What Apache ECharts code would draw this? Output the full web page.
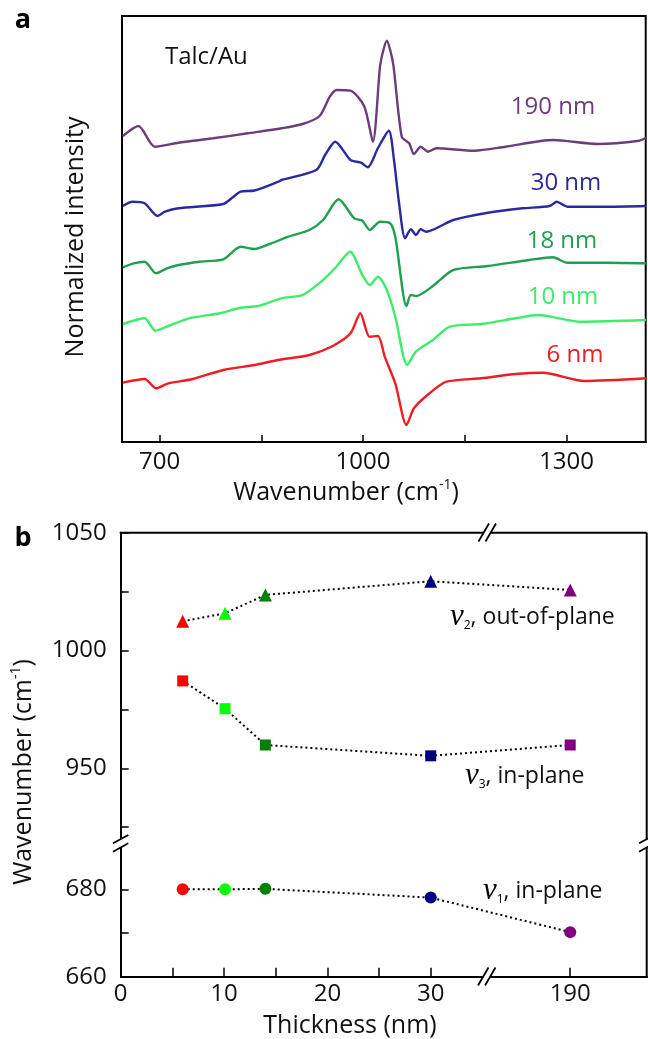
<!DOCTYPE html>
<html><head><meta charset="utf-8">
<script src="https://cdn.jsdelivr.net/npm/echarts@6/dist/echarts.min.js"></script>
<style>html,body{margin:0;padding:0;background:#fff}#c{width:648px;height:1039px}</style>
</head><body><div id="c"></div>
<script>
// ---------- Panel a: spectra (wavenumber, normalized intensity with offset) ----------
const specLabels = ['190 nm', '30 nm', '18 nm', '10 nm', '6 nm'];
const spec190 = [[646,306],[669,316],[693,295.3],[728,299.3],[779,303.7],[830,308.7],[880,313.7],[911,318],[936,326],[951,345.3],[961,352],[981.5,351.3],[1002,335.3],[1014.5,300.3],[1025,375.3],[1030,392],[1035,401.3],[1040,392],[1045,375.3],[1057,305.3],[1068,298.7],[1075,288],[1085,295.3],[1096,290.3],[1108,293.7],[1164,291.3],[1210,295.3],[1280,302],[1346,298],[1407,301.3],[1417,304.3]];
const spec30 = [[646,236],[660,240.3],[678,238.7],[697,226],[708,230.3],[728,233.7],[794,238],[809,245.3],[819.5,250.3],[840,251.5],[875,260.3],[880,262],[931,272],[944,287],[959,300.3],[981.5,282],[997,279.3],[1007,274.7],[1022,294],[1038,311.3],[1045.6,282],[1052.5,242],[1062,203.7],[1070.5,212.7],[1078,207],[1085,212.7],[1093,210.3],[1133,222],[1184,229.3],[1235,233.7],[1275,236],[1285.5,240.3],[1301,235.3],[1361,235.3],[1417,236]];
const spec18 = [[646,174.7],[662,178.7],[678,180.3],[695,168.7],[711,173.7],[728,177],[759,180.3],[794,182.7],[819.5,195.3],[840,193],[865,198.7],[890,205.3],[921,212],[941,222],[964,242.7],[987,223.7],[999,221.3],[1010,212],[1025,220.3],[1040,218.7],[1047.5,205.3],[1064,136],[1070.5,147],[1078,146],[1103,156],[1133,172],[1184,176],[1245,182],[1280,184.7],[1301,179.3],[1361,179.3],[1417,178.7]];
const spec10 = [[646,118],[678,123.7],[694,111.3],[713,116],[743.5,123.7],[789,128.7],[819.5,134.3],[845,136],[880,143.7],[911,147],[941,162],[959,174],[981,190.3],[999,167],[1010,157],[1022,165.3],[1035,152],[1047.5,125.3],[1065,77],[1078,90.3],[1103,102],[1128,115.3],[1174,118],[1225,123.7],[1257.5,127],[1321,120.3],[1417,122]];
const spec6 = [[646,59.3],[678,63],[695,53.7],[713,58.7],[749,63],[794,72],[840,77],[875,82],[921,87],[956,96.3],[981.5,108.7],[996,128.7],[1009.5,105.3],[1022,106],[1032,85.3],[1047.5,58.7],[1064,17],[1075,33.7],[1098,48.7],[1123,60.3],[1174,63.7],[1225,68],[1265,69.3],[1326,61],[1417,63.7]];
const specColors = ['#6a3d7c', '#2a2a9e', '#1fa050', '#3ded6a', '#ee1c24'];
const wnTicks = [700, 850, 1000, 1150, 1300];
const wnLabels = [700, 1000, 1300];

// ---------- Panel b: peak positions vs thickness ----------
const thickness = [6, 10.1, 14, 30, 190];
const nu2 = [1012.4, 1015.8, 1023.6, 1029.4, 1025.7];
const nu3 = [987.1, 975.3, 959.9, 955.3, 959.9];
const nu1 = [680.0, 680.0, 680.1, 678.1, 670.2];
const pointColors = ['#ff0000', '#00ff00', '#008000', '#000080', '#800080'];
const upperTicks = [925, 950, 975, 1000, 1025, 1050];
const upperLabels = [950, 1000, 1050];
const lowerTicks = [660, 670, 680];
const lowerLabels = [660, 680];
const thickTicks = [0, 5, 10, 15, 20, 25, 30, 190];
const thickLabels = [0, 10, 20, 30, 190];

const FONT = '"Open Sans", "Noto Sans", sans-serif';
const TXT = '#111';
const chart = echarts.init(document.getElementById('c'), null, {renderer: 'canvas'});

const spectra = [spec190, spec30, spec18, spec10, spec6];
const specSeries = spectra.map((d, i) => ({
  type: 'line', name: specLabels[i], xAxisIndex: 0, yAxisIndex: 0,
  data: d, showSymbol: false, smooth: 0.25,
  lineStyle: {color: specColors[i], width: 2.4}, z: 3
}));

function pts(vals) {
  return thickness.map((t, i) => ({value: [t, vals[i]], itemStyle: {color: pointColors[i]}}));
}
const dotted = {color: '#000', width: 2, type: [2, 3]};
const thickAxisBase = {
  type: 'value', min: 0, max: 197.4,
  breaks: [{start: 35.5, end: 182, gap: 0}],
  breakArea: {show: false},
  splitLine: {show: false}
};
const plain = v => String(v);
const lbl = {fontFamily: FONT, fontSize: 24, color: TXT, formatter: plain};

const labelPos = [[553, 107], [566, 183], [562, 241], [563, 297], [575, 355]];

function line(x1, y1, x2, y2, w) {
  return {type: 'line', shape: {x1, y1, x2, y2}, style: {stroke: '#000', lineWidth: w || 2}, z: 50};
}
function rect(x, y, w, h) {
  return {type: 'rect', shape: {x, y, width: w, height: h}, style: {fill: '#fff'}, z: 60};
}
function slash(x1, y1, x2, y2) {
  return {type: 'line', shape: {x1, y1, x2, y2}, style: {stroke: '#000', lineWidth: 1.8}, z: 70};
}
function nuText(x, y, sub, rest) {
  return {type: 'text', x, y, style: {text: '{nu|ν}{sub|' + sub + '}{t|, ' + rest + '}', align: 'left', verticalAlign: 'middle', lineHeight: 30,
    rich: {nu: {fontFamily: '"Liberation Serif", serif', fontStyle: 'italic', fontSize: 31, fill: '#000', lineHeight: 30, verticalAlign: 'middle'},
           sub: {fontFamily: FONT, fontSize: 12, fill: '#000', lineHeight: 14, verticalAlign: 'bottom'},
           t: {fontFamily: FONT, fontSize: 23, fill: TXT, lineHeight: 30, verticalAlign: 'middle'}}}};
}
const supRich = {sup: {fontSize: 14, fontFamily: FONT, fill: TXT, verticalAlign: 'top', lineHeight: 14}};

const graphics = [
  {type: 'text', x: 23, y: 20, style: {text: 'a', font: 'bold 27px "Open Sans", sans-serif', fill: '#000', align: 'center', verticalAlign: 'middle'}},
  {type: 'text', x: 23, y: 538, style: {text: 'b', font: 'bold 27px "Open Sans", sans-serif', fill: '#000', align: 'center', verticalAlign: 'middle'}},
  {type: 'text', x: 165, y: 57, style: {text: 'Talc/Au', font: '24px ' + FONT, fill: TXT, align: 'left', verticalAlign: 'middle'}},
  {type: 'text', x: 76, y: 237, rotation: Math.PI / 2, style: {text: 'Normalized intensity', font: '25px ' + FONT, fill: TXT, align: 'center', verticalAlign: 'middle'}},
  {type: 'text', x: 346, y: 493, style: {text: 'Wavenumber (cm{sup|-1})', font: '25px ' + FONT, fill: TXT, align: 'center', verticalAlign: 'middle', lineHeight: 30, rich: supRich}},
  {type: 'text', x: 24, y: 772, rotation: Math.PI / 2, style: {text: 'Wavenumber (cm{sup|-1})', font: '25px ' + FONT, fill: TXT, align: 'center', verticalAlign: 'middle', lineHeight: 30, rich: supRich}},
  {type: 'text', x: 350, y: 1026, style: {text: 'Thickness (nm)', font: '25px ' + FONT, fill: TXT, align: 'center', verticalAlign: 'middle'}},
  nuText(450, 617, '2', 'out-of-plane'),
  nuText(465, 776, '3', 'in-plane'),
  nuText(483, 891, '1', 'in-plane'),
  // panel b frame (top and right borders)
  line(119.7, 532.7, 646.7, 532.7),
  line(646.7, 532.7, 646.7, 977.7),
  // break gaps and marks: top, bottom (x break), left, right (y break)
  rect(483.6, 529.5, 7, 6.5),
  slash(478.5, 541.5, 489, 523.5), slash(485.5, 541.5, 496, 523.5),
  rect(483.4, 973.5, 6.6, 6.5),
  slash(478, 985.5, 488.5, 967.5), slash(485, 985.5, 495.5, 967.5),
  rect(117, 839.3, 7.5, 8),
  slash(113, 843.3, 128.3, 835), slash(113, 851.7, 128.3, 843.3),
  rect(643, 839.3, 7.5, 8),
  slash(639, 843.3, 654.3, 835), slash(639, 851.7, 654.3, 843.3)
];
specLabels.forEach((t, i) => {
  graphics.push({type: 'text', x: labelPos[i][0], y: labelPos[i][1], style: {text: t, font: '24px ' + FONT, fill: specColors[i], align: 'center', verticalAlign: 'middle'}});
});

chart.setOption({
  animation: false,
  backgroundColor: '#fff',
  grid: [
    {left: 122, top: 16, width: 523.7, height: 426, show: true, borderColor: '#000', borderWidth: 2, backgroundColor: 'transparent'},
    {left: 120.7, top: 532.7, width: 526, height: 306.3},
    {left: 120.7, top: 845.6, width: 526, height: 131.1}
  ],
  xAxis: [
    {type: 'value', gridIndex: 0, min: 644.7, max: 1416.6,
     axisLine: {show: true, lineStyle: {color: '#000', width: 2}},
     axisTick: {show: true, inside: true, length: 7, customValues: wnTicks, lineStyle: {color: '#000', width: 1.5}},
     axisLabel: Object.assign({customValues: wnLabels, margin: 8}, lbl),
     splitLine: {show: false}},
    Object.assign({gridIndex: 1, show: false}, thickAxisBase),
    Object.assign({gridIndex: 2,
     axisLine: {show: true, onZero: false, lineStyle: {color: '#000', width: 2}},
     axisTick: {show: true, inside: true, length: 9, customValues: thickTicks, lineStyle: {color: '#000', width: 1.5}},
     axisLabel: Object.assign({customValues: thickLabels, margin: 5}, lbl)}, thickAxisBase)
  ],
  yAxis: [
    {type: 'value', gridIndex: 0, min: 0, max: 426, show: false, splitLine: {show: false}},
    {type: 'value', gridIndex: 1, min: 920, max: 1050,
     axisLine: {show: true, onZero: false, lineStyle: {color: '#000', width: 2}},
     axisTick: {show: true, inside: true, length: 8, customValues: upperTicks, lineStyle: {color: '#000', width: 1.5}},
     axisLabel: Object.assign({customValues: upperLabels, margin: 14}, lbl),
     splitLine: {show: false}},
    {type: 'value', gridIndex: 2, min: 660, max: 690,
     axisLine: {show: true, onZero: false, lineStyle: {color: '#000', width: 2}},
     axisTick: {show: true, inside: true, length: 8, customValues: lowerTicks, lineStyle: {color: '#000', width: 1.5}},
     axisLabel: Object.assign({customValues: lowerLabels, margin: 14}, lbl),
     splitLine: {show: false}}
  ],
  series: specSeries.concat([
    {type: 'line', name: 'nu2', xAxisIndex: 1, yAxisIndex: 1, data: pts(nu2), symbol: 'triangle', symbolSize: 13, lineStyle: dotted, z: 5},
    {type: 'line', name: 'nu3', xAxisIndex: 1, yAxisIndex: 1, data: pts(nu3), symbol: 'rect', symbolSize: 11, lineStyle: dotted, z: 5},
    {type: 'line', name: 'nu1', xAxisIndex: 2, yAxisIndex: 2, data: pts(nu1), symbol: 'circle', symbolSize: 12, lineStyle: dotted, z: 5}
  ]),
  graphic: graphics
});
</script>
</body></html>
